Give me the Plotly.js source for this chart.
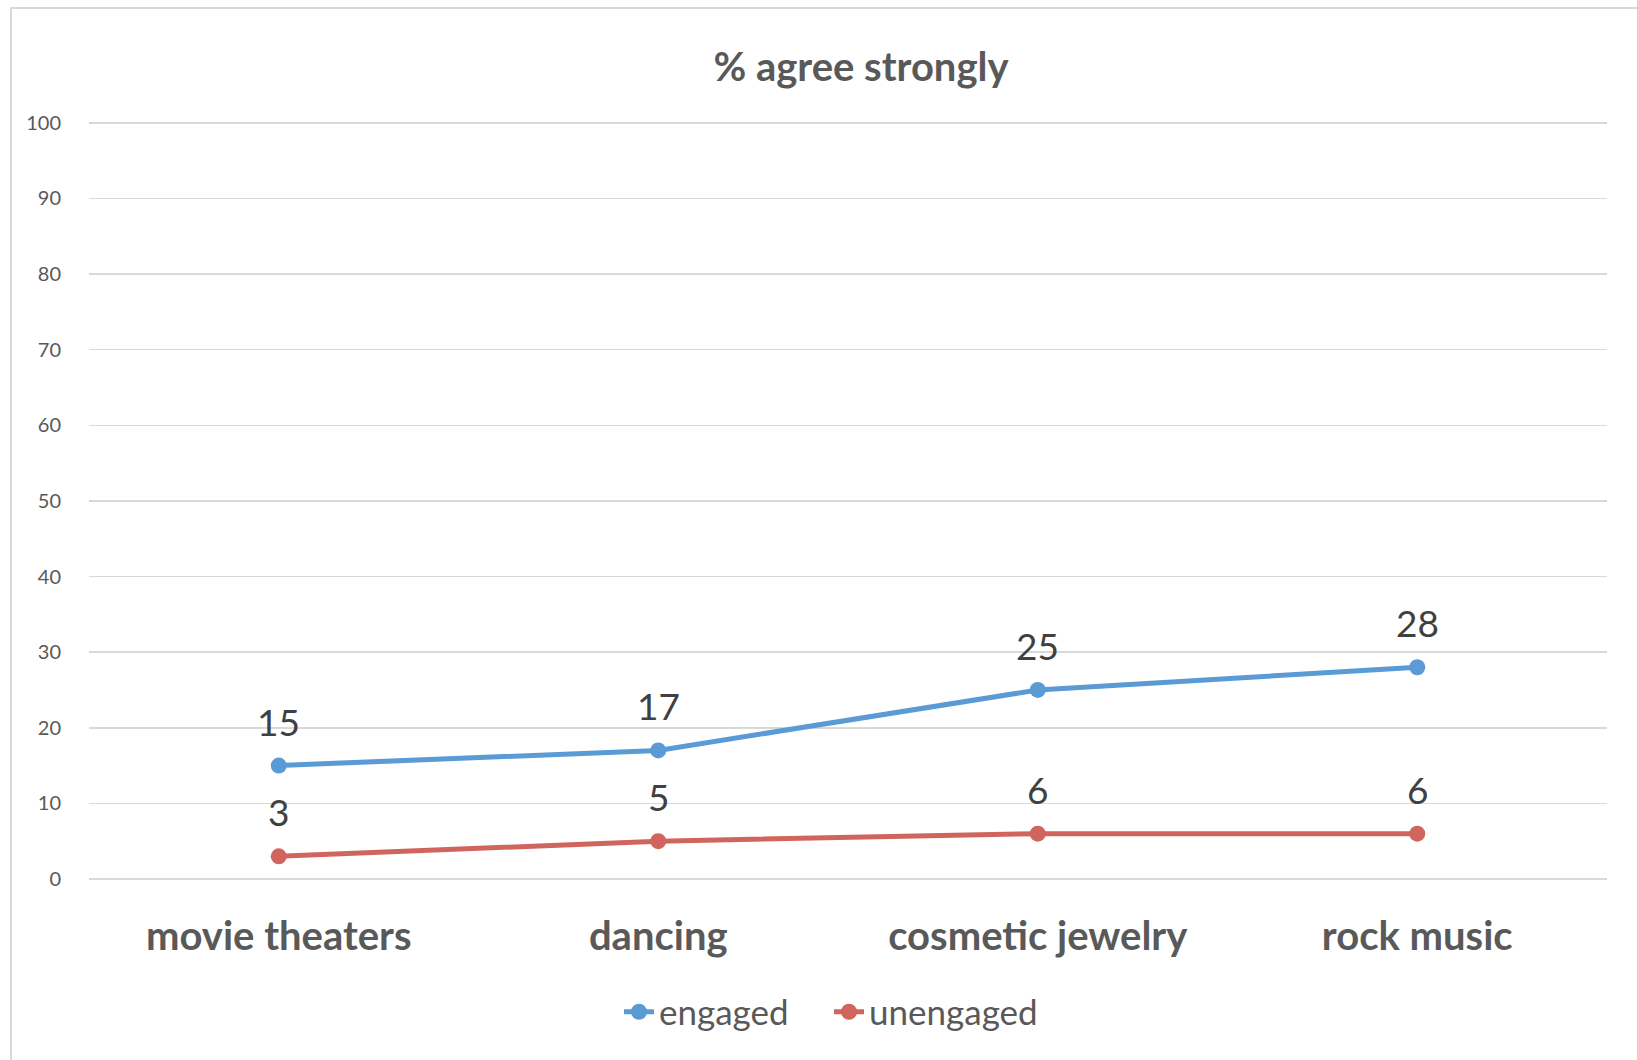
<!DOCTYPE html>
<html>
<head>
<meta charset="utf-8">
<script src="https://cdn.plot.ly/plotly-3.0.1.min.js"></script>
<style>
  html, body { margin: 0; padding: 0; background: #fff; }
  #wrap { position: relative; width: 1637px; height: 1060px; overflow: hidden; }
  #frame { position: absolute; left: 10px; top: 7px; width: 1700px; height: 1100px; border: 2px solid #d9d9d9; box-sizing: border-box; pointer-events: none; }
  #chart { position: absolute; left: 0; top: 0; width: 1637px; height: 1060px; }
</style>
</head>
<body>
<div id="wrap">
  <div id="chart"></div>
  <div id="frame"></div>
</div>
<script>
const categories = ["movie theaters", "dancing", "cosmetic jewelry", "rock music"];
const engaged = [15, 17, 25, 28];
const unengaged = [3, 5, 6, 6];
const yTicks = [0, 10, 20, 30, 40, 50, 60, 70, 80, 90, 100];

const font = "Lato, 'Open Sans', sans-serif";
const blue = "#5B9BD5";
const red = "#D0655E";

const traces = [
  {
    x: categories, y: engaged, name: "engaged", type: "scatter", mode: "lines+markers",
    line: { color: blue, width: 5 },
    marker: { color: blue, size: 16 },
    cliponaxis: false
  },
  {
    x: categories, y: unengaged, name: "unengaged", type: "scatter", mode: "lines+markers",
    line: { color: red, width: 5 },
    marker: { color: red, size: 16 },
    cliponaxis: false
  }
];

function labels(vals) {
  return categories.map((c, i) => ({
    x: c, y: vals[i], xref: "x", yref: "y",
    text: String(vals[i]), showarrow: false,
    yanchor: "bottom", yshift: 20,
    font: { family: font, size: 37, color: "#404040" }
  }));
}

const layout = {
  width: 1637, height: 1060,
  paper_bgcolor: "rgba(0,0,0,0)", plot_bgcolor: "rgba(0,0,0,0)",
  margin: { l: 89, r: 30, t: 119, b: 181 },
  title: {
    text: "<b>% agree strongly</b>",
    font: { family: font, size: 40, color: "#595959" },
    x: 861 / 1637, xanchor: "center", y: 1 - 67/1060, yanchor: "middle", yref: "container"
  },
  xaxis: {
    type: "category", range: [-0.5, 3.5],
    showgrid: false, zeroline: false, showline: false,
    ticks: "", ticklabelstandoff: 30,
    tickfont: { family: font, size: 40, color: "#595959", weight: "bold" }
  },
  yaxis: {
    range: [0, 100.5], tickvals: yTicks, ticktext: yTicks.map(String),
    showgrid: true, gridcolor: "#d9d9d9", gridwidth: 1.5,
    zeroline: true, zerolinecolor: "#d9d9d9", zerolinewidth: 1.5,
    showline: false, ticks: "", ticklabelstandoff: 27,
    tickfont: { family: font, size: 20, color: "#595959" }
  },
  annotations: labels(engaged).concat(labels(unengaged)),
  showlegend: true,
  legend: {
    orientation: "h", x: (829 - 89) / 1518, xanchor: "center", y: -((1012 - 879) / 760), yanchor: "middle",
    font: { family: font, size: 35, color: "#595959" },
    entrywidth: 165, entrywidthmode: "pixels",
    itemwidth: 30, itemclick: false, tracegroupgap: 0
  }
};

Plotly.newPlot("chart", traces, layout, { displayModeBar: false, staticPlot: true });
</script>
</body>
</html>
